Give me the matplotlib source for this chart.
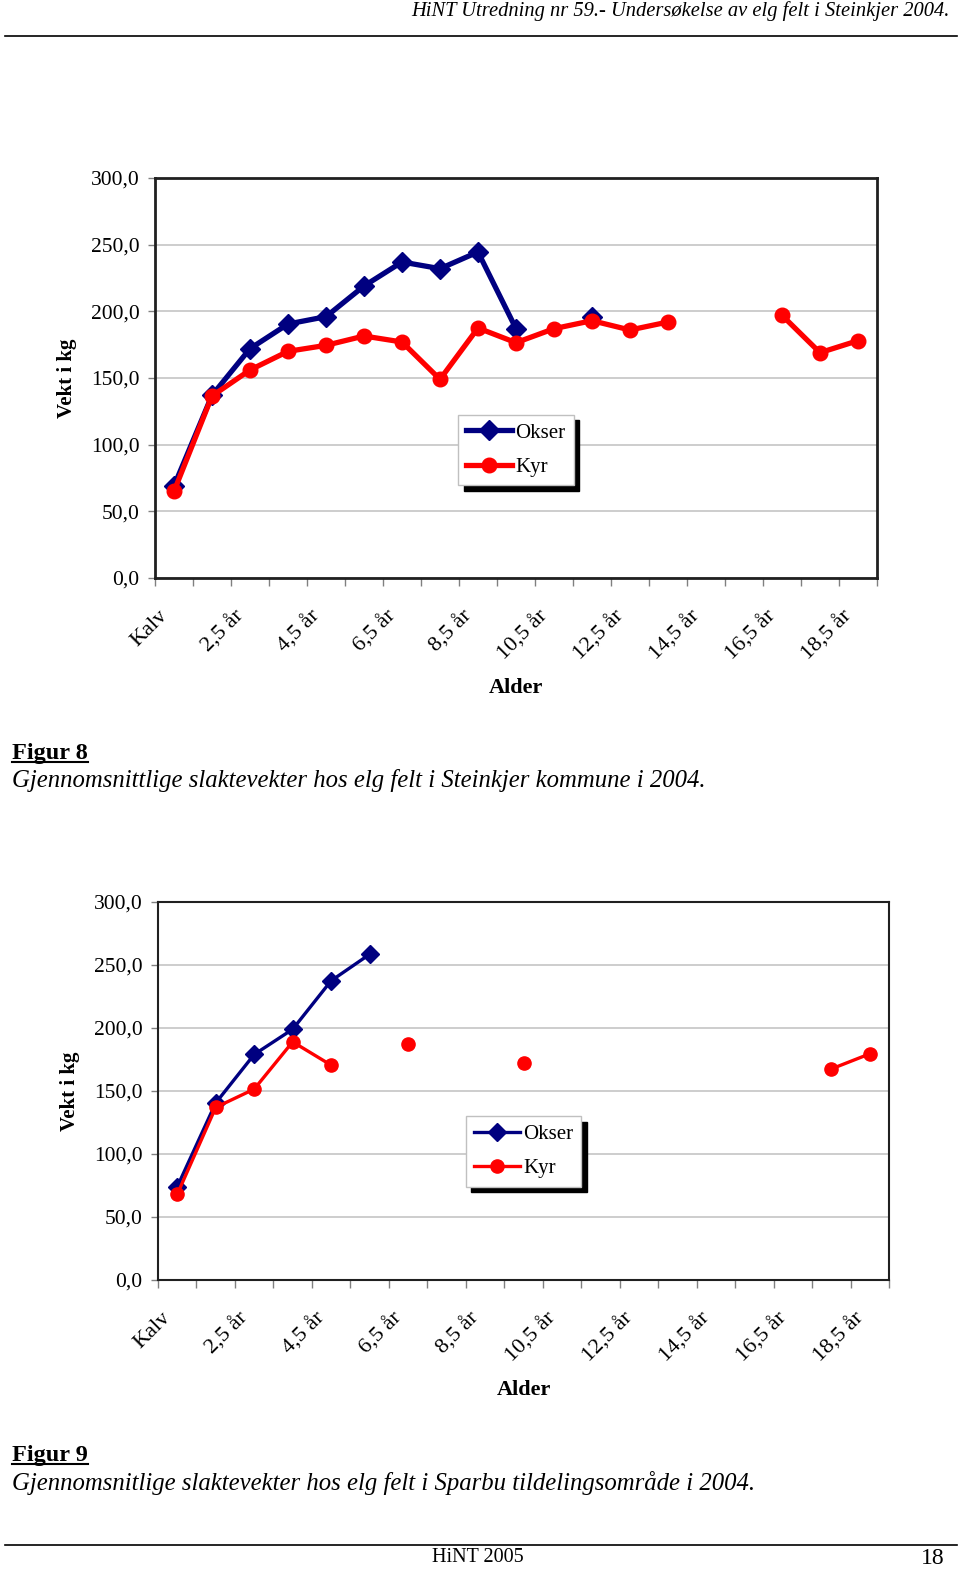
import numpy as np
import matplotlib
matplotlib.use("Agg")
import matplotlib.pyplot as plt
import matplotlib.transforms as mtrans
from matplotlib.lines import Line2D

plt.rcParams['font.family'] = ['Liberation Serif', 'DejaVu Serif']

# categories (age classes)
ages = ['Kalv'] + ['%d,5 år' % a for a in range(1, 19)]
nan = np.nan

# Figur 8 - Steinkjer kommune
okser8 = [69, 137, 172, 190.5, 196, 219, 237, 232, 244.5, 187,
          nan, 196, nan, nan, nan, nan, nan, nan, nan]
kyr8 = [65, 136.5, 156, 170, 174.5, 181.5, 177, 149, 187.5, 176.5,
        187, 193, 186, 192, nan, nan, 197, 169, 178]

# Figur 9 - Sparbu tildelingsomraade
okser9 = [74, 140.5, 179, 199, 237.5, 258.5, nan, nan, nan, nan,
          nan, nan, nan, nan, nan, nan, nan, nan, nan]
kyr9 = [68, 137, 151.5, 189, 170.5, nan, 187, nan, nan, 172.5,
        nan, nan, nan, nan, nan, nan, nan, 167.5, 179.5]

yticks = [0, 50, 100, 150, 200, 250, 300]

fig = plt.figure(figsize=(9.6, 15.71), dpi=100)


def draw_chart(ax, okser, kyr, lw, ms, frame_lw, leg_pos):
    x = np.arange(len(ages))
    ax.plot(x, okser, color='#000080', lw=lw, marker='D', ms=ms,
            label='Okser', zorder=3)
    ax.plot(x, kyr, color='#FF0000', lw=lw, marker='o', ms=ms,
            label='Kyr', zorder=4)
    ax.set_xlim(-0.5, len(ages) - 0.5)
    ax.set_ylim(0, 300)
    ax.set_yticks(yticks)
    ax.set_yticklabels(['%d,0' % v for v in yticks], fontsize=15.5)
    ax.yaxis.grid(True, color='#C0C0C0', lw=1.1)
    ax.set_axisbelow(True)
    ax.tick_params(axis='y', length=5, width=1, color='#808080', pad=6)
    ax.set_xticks(x[::2])
    ax.set_xticks(np.arange(len(ages) + 1) - 0.5, minor=True)
    ax.tick_params(axis='x', which='major', length=0, pad=22)
    ax.tick_params(axis='x', which='minor', length=6, width=1,
                   color='#808080')
    ax.set_xticklabels(ages[::2], fontsize=16, rotation=45, ha='right',
                       va='center', rotation_mode='anchor')
    for s in ax.spines.values():
        s.set_linewidth(frame_lw)
        s.set_color('#202020')
    ax.set_ylabel('Vekt i kg', fontsize=15, fontweight='bold', labelpad=10)
    ax.set_xlabel('Alder', fontsize=16, fontweight='bold', labelpad=10)
    leg = ax.legend(loc='center', bbox_to_anchor=leg_pos, fontsize=15,
                    fancybox=False, framealpha=1, edgecolor='#C0C0C0',
                    shadow={'color': 'black', 'alpha': 1, 'ox': 4, 'oy': -4},
                    handlelength=2.2, handletextpad=0.15, borderpad=0.4,
                    labelspacing=0.7, borderaxespad=0)
    leg.get_frame().set_linewidth(1)
    # nudge the slanted labels left/down like the original
    shift = mtrans.ScaledTranslation(-9 / 100, -5 / 100, fig.dpi_scale_trans)
    for lab in ax.get_xticklabels():
        lab.set_transform(lab.get_transform() + shift)
    return ax


ax1 = fig.add_axes([155 / 960, 1 - 578 / 1571, 722 / 960, 400 / 1571])
draw_chart(ax1, okser8, kyr8, 3.8, 10.5, 2.0, (0.5, 0.32))

ax2 = fig.add_axes([158 / 960, 1 - 1280 / 1571, 731 / 960, 378 / 1571])
draw_chart(ax2, okser9, kyr9, 2.4, 9.5, 1.5, (0.5, 0.34))

# page header / footer
fig.text(950 / 960, 1 - 11 / 1571, 'HiNT Utredning nr 59.- Undersøkelse av elg felt i Steinkjer 2004.',
         ha='right', va='center', fontsize=14.8, style='italic')
fig.add_artist(Line2D([5 / 960, 957 / 960], [1 - 36 / 1571] * 2, color='black', lw=1.2))
fig.add_artist(Line2D([5 / 960, 957 / 960], [1 - 1545 / 1571] * 2, color='black', lw=1.2))
fig.text(478 / 960, 1 - 1557 / 1571, 'HiNT 2005', ha='center', va='center', fontsize=14.5)
fig.text(945 / 960, 1 - 1558 / 1571, '18', ha='right', va='center', fontsize=17)

# figure captions
captions = [
    (754, 781, 'Figur 8', 'Gjennomsnittlige slaktevekter hos elg felt i Steinkjer kommune i 2004.'),
    (1456, 1483, 'Figur 9', 'Gjennomsnitlige slaktevekter hos elg felt i Sparbu tildelingsområde i 2004.'),
]
heads = []
for yh, yc, head, cap in captions:
    t = fig.text(12 / 960, 1 - yh / 1571, head, ha='left', va='center',
                 fontsize=17.5, fontweight='bold')
    heads.append(t)
    fig.text(12 / 960, 1 - yc / 1571, cap, ha='left', va='center',
             fontsize=17.8, style='italic')

# underline the "Figur" headings
fig.canvas.draw()
for t in heads:
    bb = t.get_window_extent().transformed(fig.transFigure.inverted())
    fig.add_artist(Line2D([bb.x0, bb.x1], [bb.y0 + 0.0015] * 2, color='black', lw=1.5))

fig.savefig('out.png', dpi=100)
